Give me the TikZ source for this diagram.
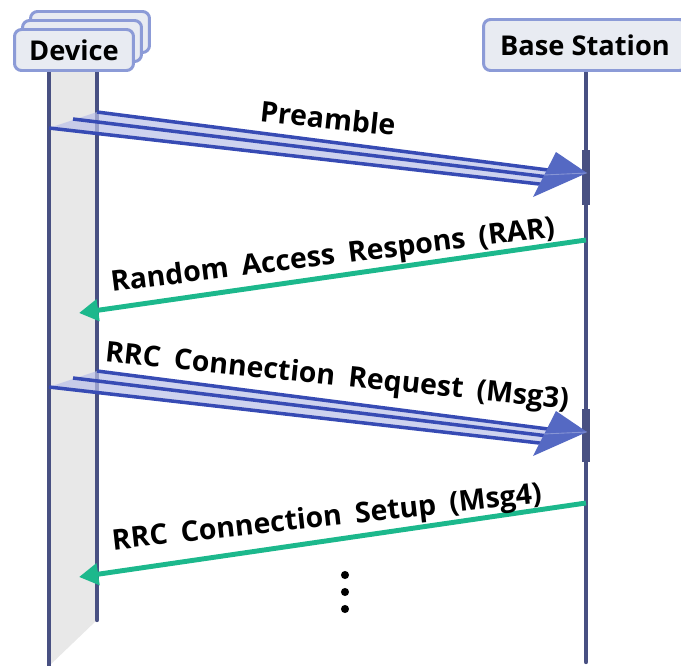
\documentclass[tikz,border=0pt]{standalone}
\usepackage{fontspec}
\setmainfont{Open Sans}
\newfontfamily\lblfont{Open Sans}[WordSpace=1.8]
\usetikzlibrary{arrows.meta,calc}
\definecolor{lifeblue}{RGB}{72,80,130}
\definecolor{boxfill}{RGB}{232,235,242}
\definecolor{boxline}{RGB}{140,155,215}
\definecolor{bandgray}{RGB}{232,232,232}
\definecolor{msgblue}{RGB}{55,75,180}
\definecolor{ribbonblue}{RGB}{185,192,232}
\definecolor{headblue}{RGB}{85,105,195}
\definecolor{msggreen}{RGB}{28,184,140}
\tikzset{
  actor/.style={draw=boxline, line width=1.7pt, fill=boxfill, rounded corners=4pt,
    minimum width=2.38cm, minimum height=0.82cm, inner sep=0pt,
    font=\bfseries\fontsize{15.5}{18}\selectfont},
  life/.style={draw=lifeblue, line width=2.5pt, line cap=round},
  bundle/.style={draw=msgblue, line width=2pt},
  ribbon/.style={fill=ribbonblue, opacity=0.7},
  greenmsg/.style={draw=msggreen, line width=2.8pt, -{Triangle[length=11pt,width=12pt]}},
  lbl/.style={font=\lblfont\bfseries\fontsize{16.2}{19}\selectfont, inner sep=0pt}
}

\begin{document}
\begin{tikzpicture}[x=0.02cm, y=-0.02cm]
    \useasboundingbox (0,0) rectangle (681,666);
    % lifelines
    \coordinate (dl) at (49,72);
    \coordinate (dl-end) at (49,666);
    \coordinate (dr) at (97,72);
    \coordinate (dr-end) at (97,620);
    \coordinate (bsl) at (586,72);
    \coordinate (bsl-end) at (586,662);
    \fill[bandgray] (dl) -- (dr) -- (dr-end) -- (dl-end) -- cycle;
    \draw[life] (dl) -- (dl-end);
    \draw[life] (dr) -- (dr-end);
    \draw[life] (bsl) -- (bsl-end);
    \draw[life, line width=4.5pt, line cap=butt] (586,150) -- (586,205);
    \draw[life, line width=4.5pt, line cap=butt] (586,409) -- (586,462);

    % actors
    \node[actor] (dev3) at (90,32) {};
    \node[actor] (dev2) at (82,41) {};
    \node[actor] (dev) at (74,50) {Device};
    \node[actor, minimum width=4.06cm, minimum height=1.02cm] (bs) at (585,45) {Base Station};

    % preamble and msg3 from the device group
    \foreach \dy/\tag in {0/pre,259/req}{
      \begin{scope}[shift={(0,\dy)}]
        \coordinate (\tag-t) at (97,112);
        \coordinate (\tag-m) at (73,119);
        \coordinate (\tag-b) at (49,128);
        \coordinate (\tag-te) at (548,170);
        \coordinate (\tag-me) at (548,177);
        \coordinate (\tag-be) at (548,185);
        \coordinate (\tag-tip) at (587,173);
        \fill[ribbon] (\tag-b) -- (\tag-t) -- (\tag-te) -- (\tag-be) -- cycle;
        \draw[bundle] (\tag-t) -- (\tag-te);
        \draw[bundle] (\tag-m) -- (\tag-me);
        \draw[bundle] (\tag-b) -- (\tag-be);
        \fill[headblue] (556,152) -- (\tag-tip) -- (533,197) -- cycle;
        \draw[white, opacity=0.3, line width=0.5pt] (\tag-tip) -- (544,175);
      \end{scope}
    }

    % replies from the base station
    \coordinate (rar-s) at (586,240);
    \coordinate (rar-e) at (79,313);
    \coordinate (set-s) at (586,503);
    \coordinate (set-e) at (79,577);
    \draw[greenmsg] (rar-s) -- (rar-e);
    \draw[greenmsg] (set-s) -- (set-e);

    % labels
    \node[lbl, rotate=-6] (prelbl) at (328,118) {Preamble};
    \node[lbl, rotate=7.1] (rarlbl) at (333,257) {Random Access Respons (RAR)};
    \node[lbl, rotate=-5.8] (reqlbl) at (337,378) {RRC Connection Request (Msg3)};
    \node[lbl, rotate=6.3] (setlbl) at (327,519) {RRC Connection Setup (Msg4)};

    % more messages follow
    \foreach \y in {575,592,609}
      \fill (345,\y) circle[radius=2.3pt];
\end{tikzpicture}
\end{document}
